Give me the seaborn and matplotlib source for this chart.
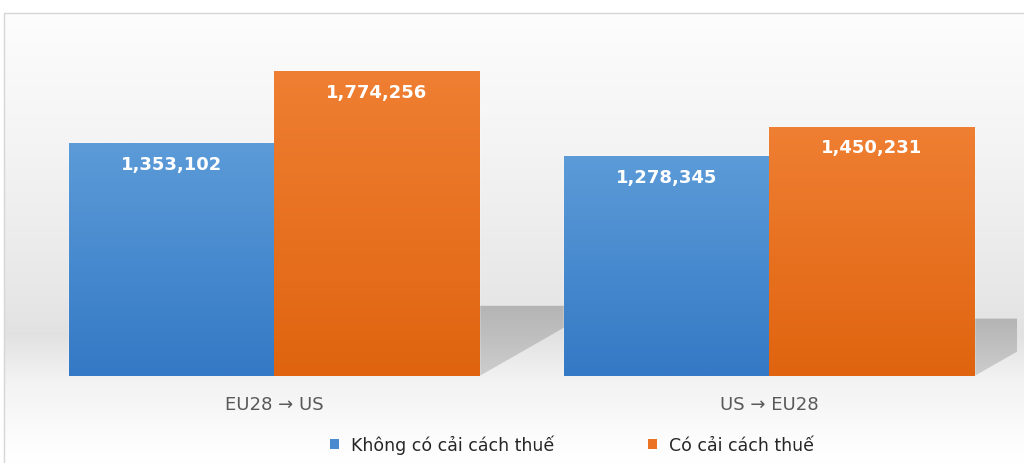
import numpy as np
import pandas as pd
import seaborn as sns
import matplotlib
matplotlib.use("Agg")
import matplotlib.pyplot as plt
from matplotlib.colors import LinearSegmentedColormap
from matplotlib.patches import Polygon, Patch, Rectangle

# ---- data ----
routes = ["EU28 → US", "US → EU28"]
series = ["Không có cải cách thuế", "Có cải cách thuế"]
no_reform = [1353102, 1278345]
with_reform = [1774256, 1450231]

df = pd.DataFrame({
    "route": routes * 2,
    "series": [series[0]] * 2 + [series[1]] * 2,
    "value": no_reform + with_reform,
})

# gradient colours (top, bottom) for each series
bar_grad = [("#5c9bd8", "#3479c5"), ("#ef7f33", "#e0640f")]
base_cols = ["#4a8bd0", "#ea7424"]

W, H = 1024, 464
sns.set_theme(style="white")
plt.rcParams["font.family"] = ["DejaVu Sans"]
fig = plt.figure(figsize=(W / 100, H / 100), dpi=100)
fig.patch.set_facecolor("white")

# ---- chart-area background: soft vertical grey band ----
bg = fig.add_axes([0, 0, 1, 1], zorder=-10)
bg.axis("off")
ys = np.arange(H)
stops_y = [0, 14, 150, 300, 335, 380, 440, H]
stops_v = [1.0, 0.992, 0.955, 0.905, 0.885, 0.95, 0.99, 1.0]
vals = np.interp(ys, stops_y, stops_v)
img = np.repeat(vals[:, None], W, axis=1)
img[:14, :] = 1.0
img[:, :4] = 1.0
bg.imshow(np.dstack([img] * 3), extent=[0, W, H, 0], aspect="auto", interpolation="bilinear")
bg.add_patch(Rectangle((4, 14), W + 10, H, fill=False, edgecolor="#d6d6d6", lw=1.0))
bg.set_xlim(0, W)
bg.set_ylim(H, 0)

# ---- main plot ----
ax = fig.add_axes([26.5 / W, 87 / H, 990 / W, 344 / H])
ax.patch.set_alpha(0)
sns.barplot(data=df, x="route", y="value", hue="series", palette=base_cols,
            width=0.83, saturation=1, ax=ax, legend=False, errorbar=None)

ymax = 2_000_000
ax.set_xlim(-0.5, 1.5)
ax.set_ylim(0, ymax)

px_per_y = 344 / ymax
px_per_x = 495.0

# perspective shadows cast behind each bar
shadow_cmap = LinearSegmentedColormap.from_list("sh", ["#cdcdcd", "#b4b4b4"])
for cont in ax.containers:
    for bar in cont:
        x0, w, h = bar.get_x(), bar.get_width(), bar.get_height()
        rise = 0.23 * h
        dx = 1.75 * rise * px_per_y / px_per_x
        poly = Polygon([(x0, 0), (x0 + w, 0), (x0 + w + dx, rise), (x0 + dx, rise)],
                       closed=True, facecolor="none", edgecolor="none", zorder=0.4)
        ax.add_patch(poly)
        im = ax.imshow(np.linspace(0, 1, 64)[:, None], cmap=shadow_cmap, origin="lower",
                       extent=[x0, x0 + w + dx, 0, rise], aspect="auto", zorder=0.5,
                       interpolation="bilinear")
        im.set_clip_path(poly)

# gradient fill inside each bar, value label near the top
for cont, (top, bottom) in zip(ax.containers, bar_grad):
    cmap = LinearSegmentedColormap.from_list("g", [bottom, top])
    for bar in cont:
        bar.set_zorder(1)
        x0, w, h = bar.get_x(), bar.get_width(), bar.get_height()
        im = ax.imshow(np.linspace(0, 1, 128)[:, None], cmap=cmap, origin="lower",
                       extent=[x0, x0 + w, 0, h], aspect="auto", zorder=1.5,
                       interpolation="bilinear")
        im.set_clip_path(bar)
        ax.annotate(f"{h:,.0f}", (x0 + w / 2, h), xytext=(0, -15), textcoords="offset points",
                    ha="center", va="center", color="white", fontsize=13,
                    fontweight="bold", zorder=3)

ax.set_xlim(-0.5, 1.5)
ax.set_ylim(0, ymax)
for s in ax.spines.values():
    s.set_visible(False)
ax.set_yticks([])
ax.set_xlabel("")
ax.set_ylabel("")
ax.tick_params(axis="x", length=0, pad=14, labelsize=13, labelcolor="#595959")

handles = [Patch(facecolor=c, edgecolor="none") for c in base_cols]
fig.legend(handles, series, loc="center", bbox_to_anchor=(572 / W, 1 - 445 / H),
           ncol=2, frameon=False, handlelength=0.5, handleheight=0.5,
           handletextpad=0.7, columnspacing=5.4, fontsize=12.5, labelcolor="#262626")

fig.savefig("out.png", dpi=100)
